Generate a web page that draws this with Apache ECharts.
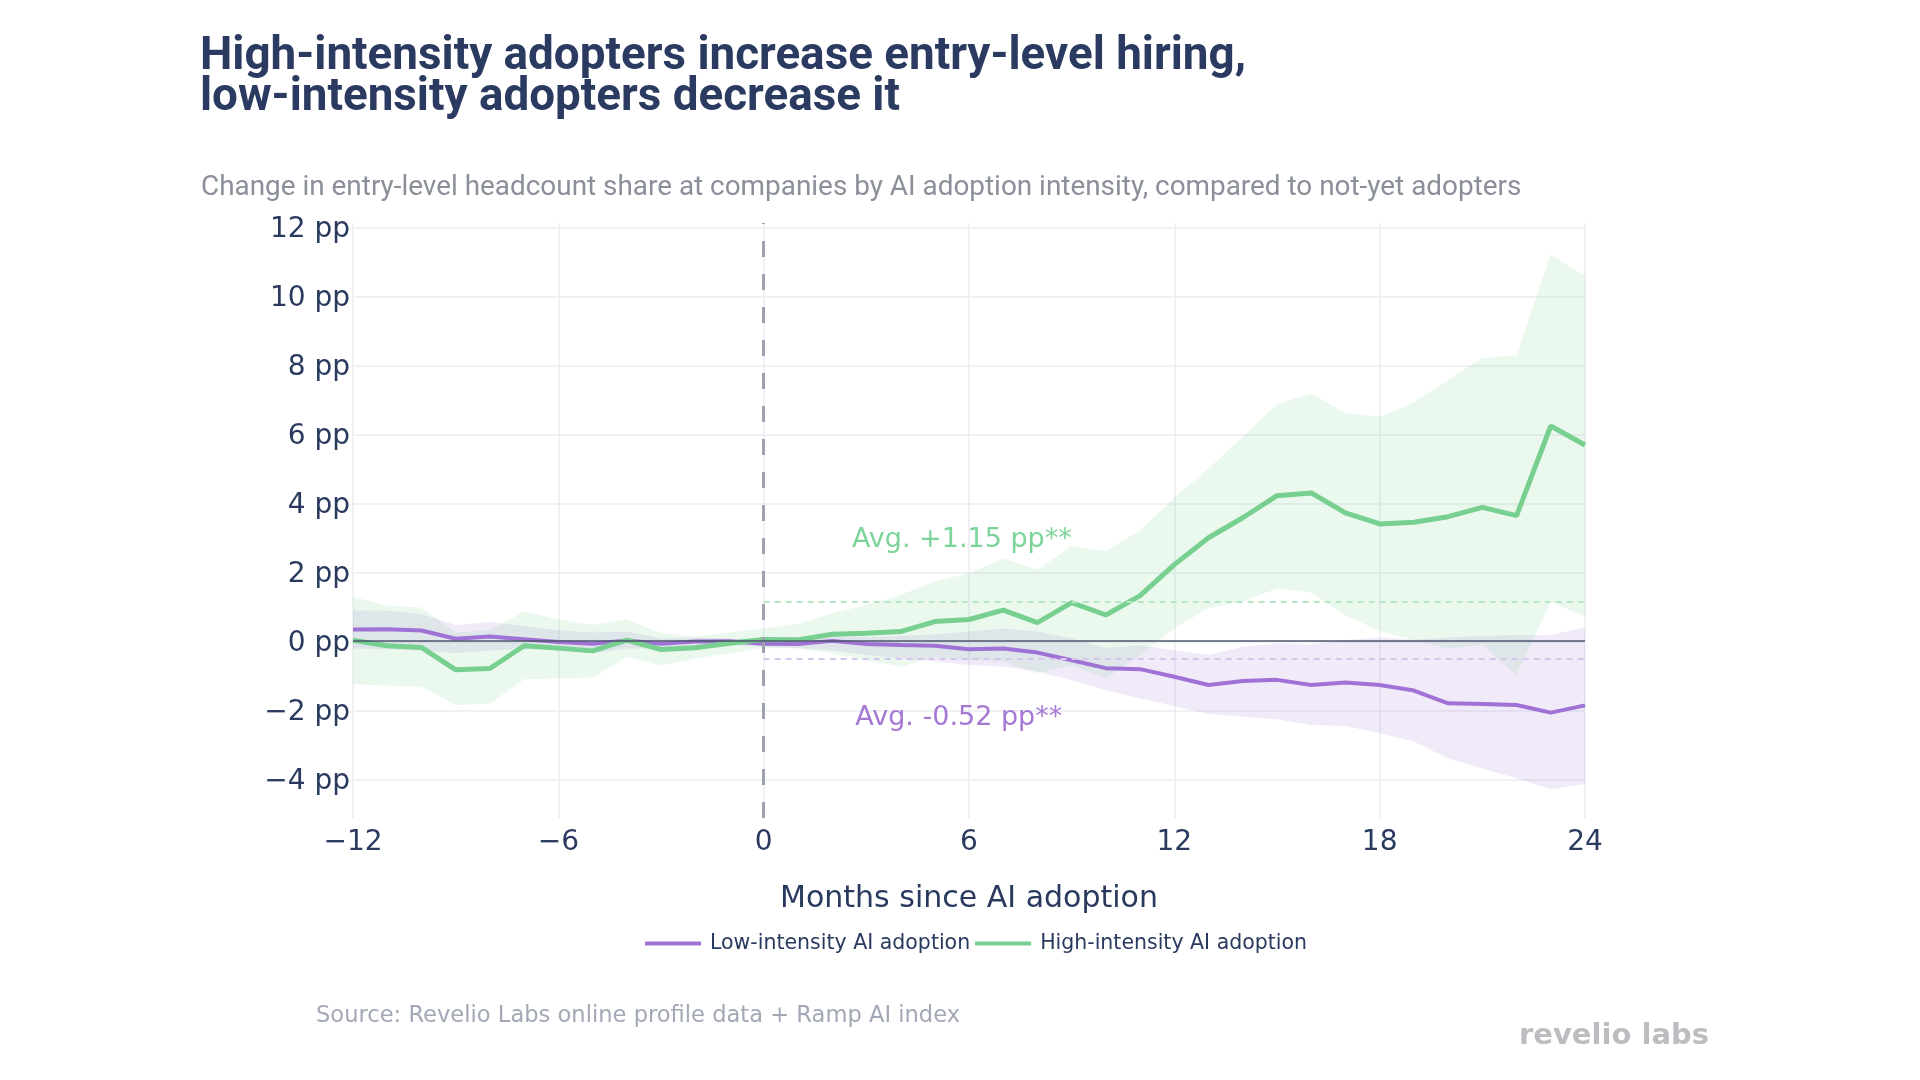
<!DOCTYPE html>
<html>
<head>
<meta charset="utf-8">
<script src="https://cdn.jsdelivr.net/npm/echarts@6/dist/echarts.min.js"></script>
<style>
html,body{margin:0;padding:0;background:#fff;}
#chart{width:1920px;height:1080px;}
</style>
</head>
<body>
<div id="chart"></div>
<script>
// ---- data ----
const months = [-12,-11,-10,-9,-8,-7,-6,-5,-4,-3,-2,-1,0,1,2,3,4,5,6,7,8,9,10,11,12,13,14,15,16,17,18,19,20,21,22,23,24];
const lowIntensity = [0.34,0.35,0.31,0.07,0.14,0.06,-0.02,-0.07,0.02,-0.07,-0.01,0.0,-0.07,-0.08,0.01,-0.08,-0.11,-0.13,-0.23,-0.21,-0.33,-0.55,-0.78,-0.81,-1.03,-1.27,-1.15,-1.12,-1.27,-1.20,-1.27,-1.43,-1.80,-1.82,-1.85,-2.07,-1.86];
const lowUpper = [0.9,0.88,0.79,0.47,0.56,0.44,0.32,0.25,0.28,0.08,0.11,0.08,0.05,0.06,0.15,0.12,0.15,0.2,0.28,0.37,0.28,0.08,-0.2,-0.12,-0.26,-0.40,-0.16,-0.06,-0.09,0.03,0.11,0.05,0.11,0.15,0.18,0.18,0.40];
const lowLower = [-0.21,-0.23,-0.26,-0.35,-0.27,-0.23,-0.26,-0.35,-0.21,-0.21,-0.16,-0.11,-0.16,-0.2,-0.26,-0.4,-0.5,-0.59,-0.69,-0.74,-0.88,-1.13,-1.42,-1.66,-1.88,-2.11,-2.19,-2.26,-2.43,-2.46,-2.67,-2.91,-3.4,-3.69,-3.97,-4.29,-4.14];
const highIntensity = [0.03,-0.13,-0.18,-0.83,-0.79,-0.13,-0.2,-0.28,0.03,-0.24,-0.19,-0.06,0.05,0.04,0.2,0.23,0.28,0.57,0.63,0.9,0.54,1.12,0.76,1.32,2.22,3.0,3.58,4.22,4.3,3.72,3.4,3.45,3.61,3.88,3.64,6.24,5.69];
const highUpper = [1.29,1.03,0.98,0.25,0.32,0.86,0.63,0.47,0.63,0.23,0.13,0.25,0.37,0.5,0.81,1.05,1.34,1.73,1.97,2.4,2.08,2.76,2.61,3.22,4.17,5.01,5.93,6.87,7.18,6.62,6.51,6.92,7.57,8.21,8.29,11.22,10.59];
const highLower = [-1.25,-1.29,-1.32,-1.85,-1.81,-1.10,-1.08,-1.05,-0.45,-0.71,-0.5,-0.35,-0.2,-0.21,-0.35,-0.55,-0.74,-0.45,-0.55,-0.59,-0.93,-0.69,-1.08,-0.4,0.36,0.96,1.15,1.53,1.41,0.75,0.3,0.03,-0.21,-0.11,-0.98,1.14,0.71];
const avgHigh = 1.15;
const avgLow = -0.52;
const seriesNames = ['Low-intensity AI adoption','High-intensity AI adoption'];

// ---- styling ----
const PURPLE = '#a072d6';
const GREEN = '#77d08f';
const NAVY = '#2a3a5e';
const GRID = '#eaecf2';
const fmt = v => (v < 0 ? '\u2212' + Math.abs(v) : String(v));

const pairs = arr => months.map((m, i) => [m, arr[i]]);

function bandSeries(name, lower, upper, fill) {
  return {
    name: name, type: 'custom', xAxisIndex: 0, yAxisIndex: 0, silent: true, z: 1,
    data: months.map((m, i) => [m, lower[i], upper[i]]),
    encode: {x: 0, y: [1, 2]},
    renderItem: function (params, api) {
      if (params.dataIndex !== 0) return null;
      const pts = [];
      for (let i = 0; i < months.length; i++) pts.push(api.coord([months[i], upper[i]]));
      for (let i = months.length - 1; i >= 0; i--) pts.push(api.coord([months[i], lower[i]]));
      return {type: 'polygon', shape: {points: pts}, style: {fill: fill}};
    }
  };
}

const chart = echarts.init(document.getElementById('chart'), null, {renderer: 'canvas'});

const option = {
  backgroundColor: '#ffffff',
  animation: false,
  title: [
    {
      text: 'High-intensity adopters increase entry-level hiring,\nlow-intensity adopters decrease it',
      left: 195, top: 32.5,
      textStyle: {fontFamily: 'Roboto', fontWeight: 'bold', fontSize: 45.8, lineHeight: 41, color: '#2b3a60'}
    },
    {
      text: 'Change in entry-level headcount share at companies by AI adoption intensity, compared to not-yet adopters',
      left: 196, top: 169,
      textStyle: {fontFamily: 'Roboto', fontWeight: 'normal', fontSize: 27.9, color: '#8a8f99'}
    },
    {
      text: 'Source: Revelio Labs online profile data + Ramp AI index',
      left: 311, top: 1000,
      textStyle: {fontFamily: 'DejaVu Sans', fontWeight: 'normal', fontSize: 22.6, color: '#a3a8b6'}
    },
    {
      text: 'revelio labs',
      left: 1514, top: 1017,
      textStyle: {fontFamily: 'DejaVu Sans', fontWeight: 'bold', fontSize: 29, color: '#bcbcc1'}
    }
  ],
  legend: {
    data: seriesNames.map(n => ({name: n, icon: 'rect'})),
    left: 640, top: 928,
    itemWidth: 56, itemHeight: 4, itemGap: 5,
    textStyle: {fontFamily: 'DejaVu Sans', fontSize: 20.5, color: NAVY, padding: [0,0,0,4]}
  },
  grid: [
    {left: 353, top: 223, width: 1232, height: 595, containLabel: false},
    {left: 353, top: 227.3, width: 1232, height: 552, containLabel: false},
    {left: 353, top: 229.8, width: 1232, height: 552, containLabel: false}
  ],
  xAxis: [
    {
      type: 'value', gridIndex: 0, min: -12, max: 24, interval: 6,
      axisLine: {show: false}, axisTick: {show: false},
      splitLine: {show: true, lineStyle: {color: GRID, width: 1.5}},
      axisLabel: {fontFamily: 'DejaVu Sans', fontSize: 28, color: NAVY, margin: 10.5, formatter: fmt},
      name: 'Months since AI adoption', nameLocation: 'middle', nameGap: 66,
      nameTextStyle: {fontFamily: 'DejaVu Sans', fontSize: 30, color: NAVY}
    },
    {type: 'value', gridIndex: 1, min: 0, max: 1, show: false},
    {type: 'value', gridIndex: 2, min: 0, max: 1, show: false}
  ],
  yAxis: [
    {
      type: 'value', gridIndex: 0, min: -5.125, max: 12.125,
      axisLine: {show: false}, axisTick: {show: false}, axisLabel: {show: false}, splitLine: {show: false}
    },
    {
      type: 'value', gridIndex: 1, min: -4, max: 12, interval: 2,
      axisLine: {show: false}, axisTick: {show: false}, axisLabel: {show: false},
      splitLine: {show: true, lineStyle: {color: GRID, width: 1.5}}
    },
    {
      type: 'value', gridIndex: 2, min: -4, max: 12, interval: 2,
      axisLine: {show: false}, axisTick: {show: false}, splitLine: {show: false},
      axisLabel: {fontFamily: 'DejaVu Sans', fontSize: 28, color: NAVY, margin: 3,
        formatter: v => fmt(v) + ' pp'}
    }
  ],
  series: [
    bandSeries('lowBand', lowLower, lowUpper, 'rgba(160,114,214,0.15)'),
    bandSeries('highBand', highLower, highUpper, 'rgba(119,208,143,0.15)'),
    {
      name: 'refLines', type: 'line', xAxisIndex: 0, yAxisIndex: 0, data: [], z: 2, silent: true,
      markLine: {
        silent: true, symbol: ['none','none'], label: {show: false},
        data: [
          {xAxis: 0, lineStyle: {color: '#9ea2b0', width: 3, type: [16,17]}},
          {yAxis: 0, lineStyle: {color: '#4e546c', width: 1.5, type: 'solid'}},
          [{coord: [0, avgHigh], lineStyle: {color: '#b7e6c4', width: 2, type: [6,5]}}, {coord: [24, avgHigh]}],
          [{coord: [0, avgLow], lineStyle: {color: '#d6c6ee', width: 2, type: [6,5]}}, {coord: [24, avgLow]}]
        ]
      }
    },
    {
      name: seriesNames[0], type: 'line', xAxisIndex: 0, yAxisIndex: 0,
      data: pairs(lowIntensity), symbol: 'none', showSymbol: false,
      lineStyle: {color: PURPLE, width: 4}, itemStyle: {color: PURPLE}, z: 3,
      markPoint: {
        symbol: 'rect', symbolSize: 1, itemStyle: {color: 'rgba(0,0,0,0)'},
        data: [{coord: [5.7, -2.23], value: avgLow,
          label: {show: true, position: 'inside', formatter: 'Avg. -0.52 pp**',
            fontFamily: 'DejaVu Sans', fontSize: 27, color: '#a678d6'}}]
      }
    },
    {
      name: seriesNames[1], type: 'line', xAxisIndex: 0, yAxisIndex: 0,
      data: pairs(highIntensity), symbol: 'none', showSymbol: false,
      lineStyle: {color: GREEN, width: 5}, itemStyle: {color: GREEN}, z: 4,
      markPoint: {
        symbol: 'rect', symbolSize: 1, itemStyle: {color: 'rgba(0,0,0,0)'},
        data: [{coord: [5.79, 2.93], value: avgHigh,
          label: {show: true, position: 'inside', formatter: 'Avg. +1.15 pp**',
            fontFamily: 'DejaVu Sans', fontSize: 27, color: '#7dd49a'}}]
      }
    }
  ]
};
chart.setOption(option);
</script>
</body>
</html>
